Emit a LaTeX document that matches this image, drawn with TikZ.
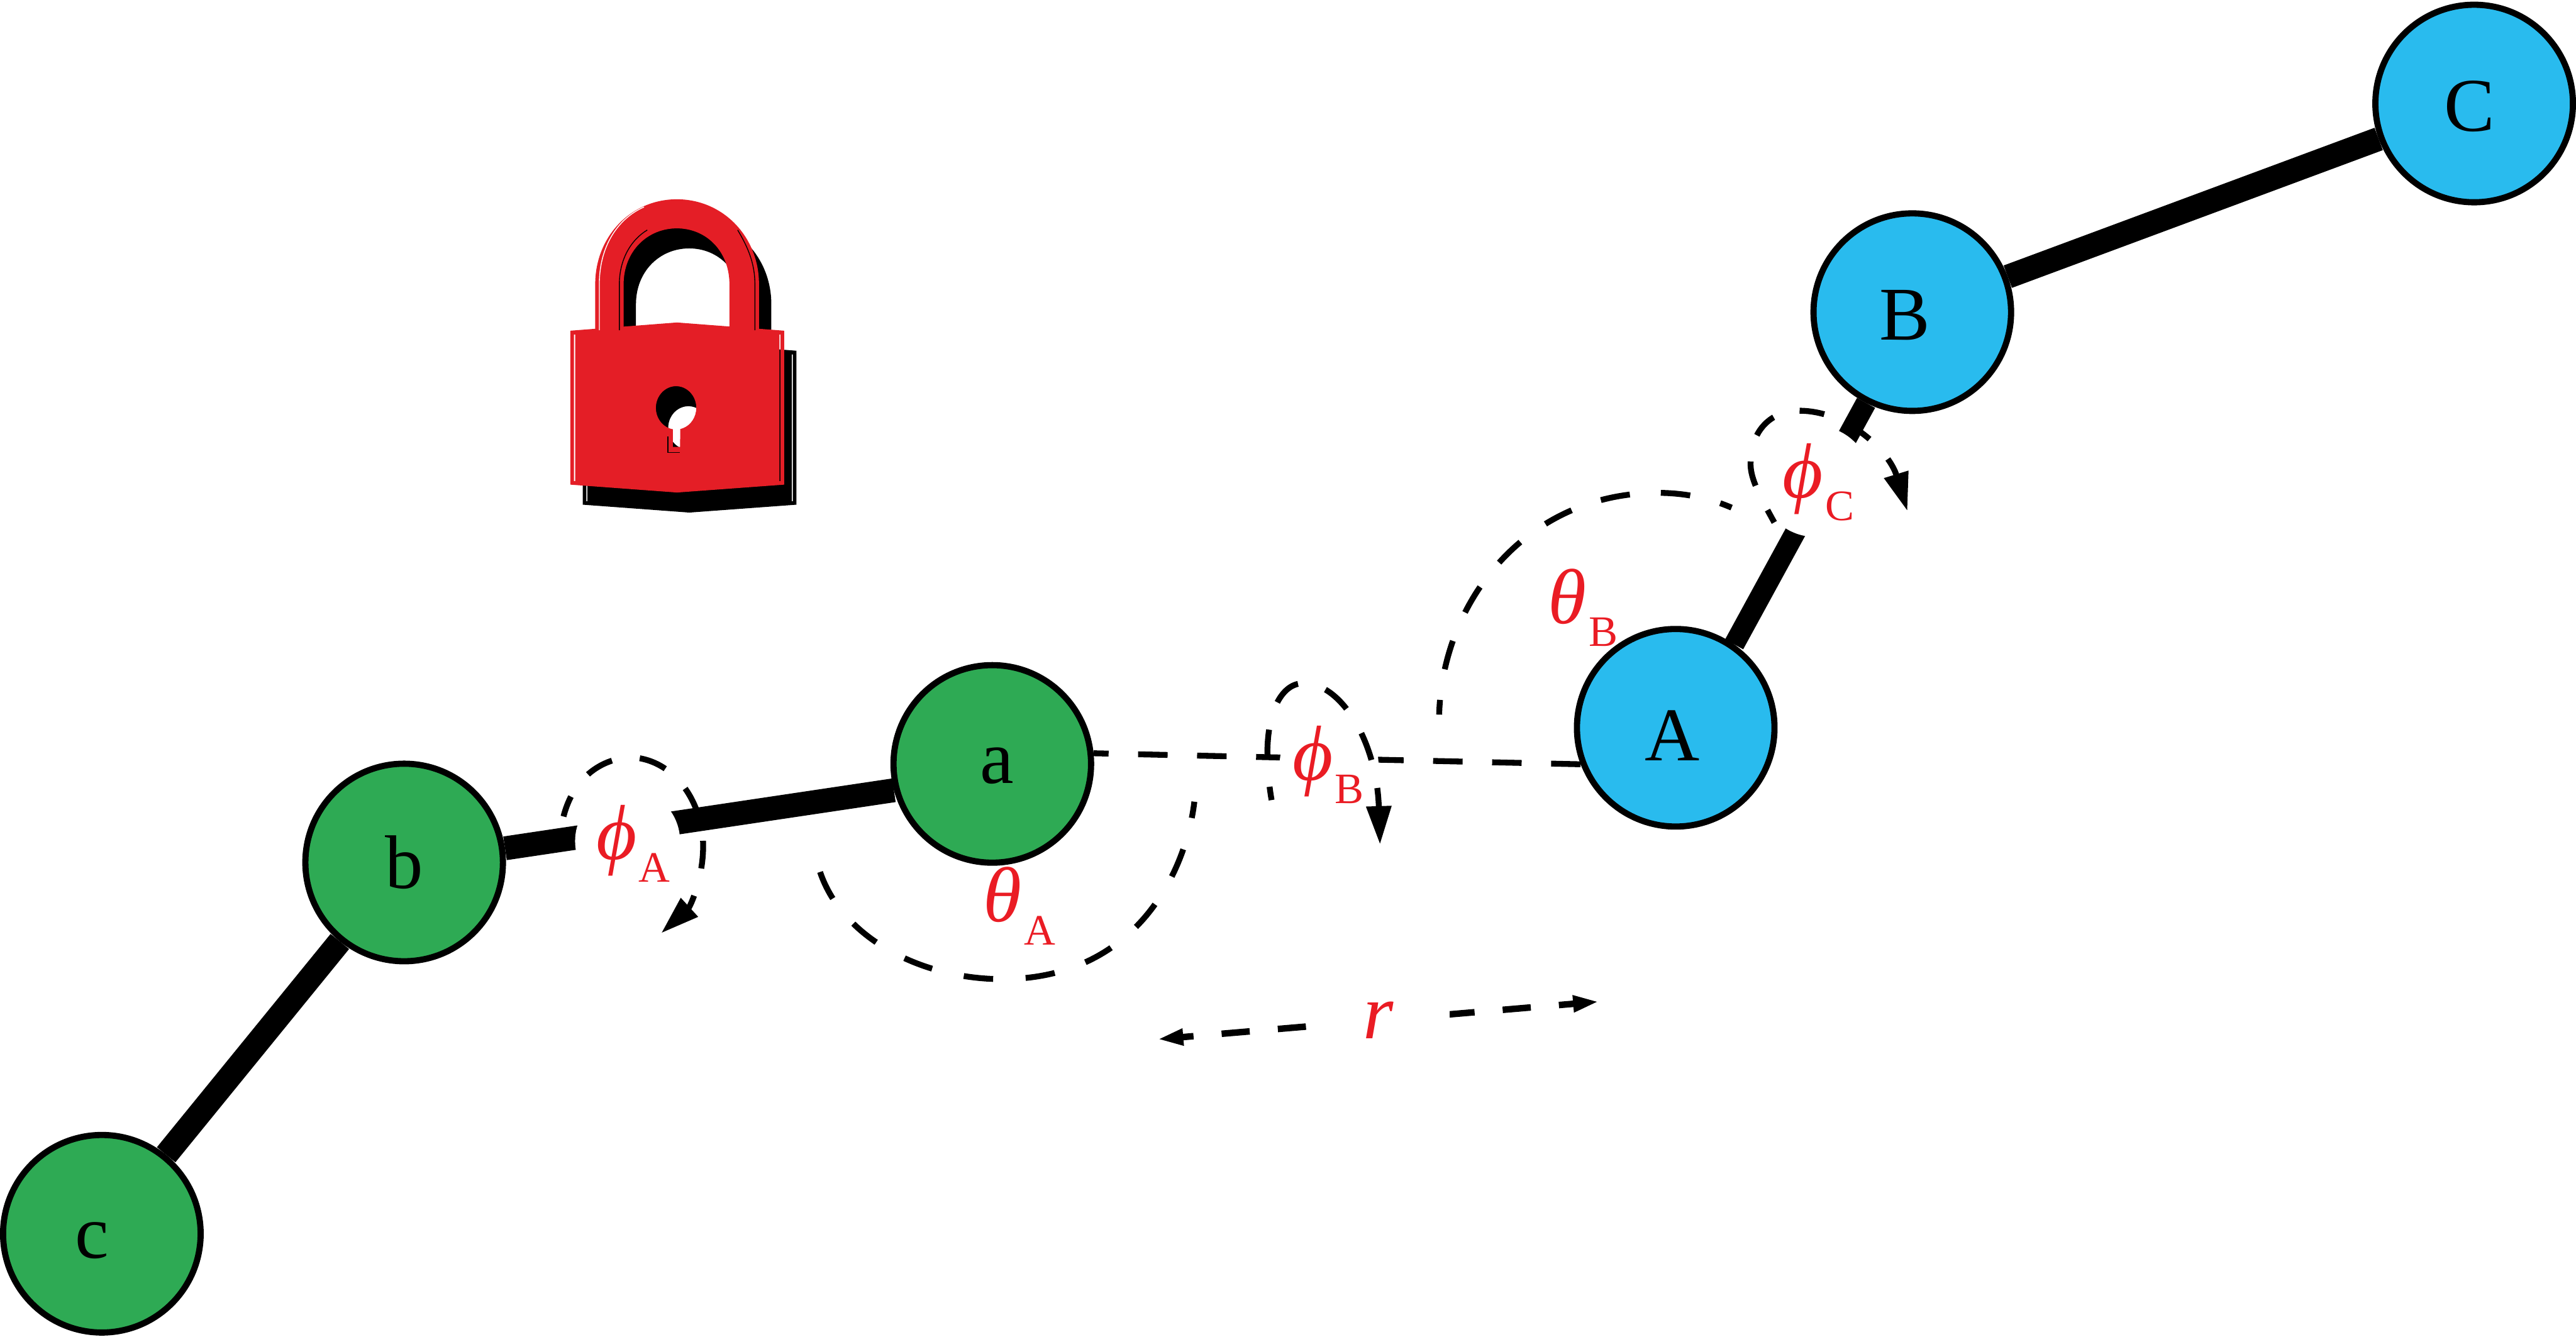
\documentclass[tikz,border=0pt]{standalone}
\usepackage{fontspec}
\setmainfont{Liberation Serif}
\usepackage{tikz}
\usetikzlibrary{arrows.meta}
\definecolor{atomgreen}{RGB}{46,170,84}
\definecolor{atomblue}{RGB}{41,187,238}
\definecolor{lockred}{RGB}{228,30,38}
\definecolor{labred}{RGB}{234,28,36}
\newcommand{\anglab}[2]{{\fontsize{36}{36}\selectfont\itshape #1}\kern1pt\raisebox{-10.5pt}{\fontsize{20}{20}\selectfont #2}}

\begin{document}
\begin{tikzpicture}[x=0.02661cm,y=-0.02661cm,
  atom/.style={circle, draw=black, line width=2.85pt, minimum size=32mm, inner sep=0pt, font=\fontsize{35}{35}\selectfont},
  bond/.style={line width=11pt},
  dsh/.style={dash pattern=on 13.6pt off 14.3pt, line width=2.7pt},
  arr/.style={-{Triangle[length=6.2mm,width=3.9mm]}},
  gap/.style={circle, fill=white, inner sep=0pt},
  lab/.style={text=labred, inner sep=0pt}]
  \useasboundingbox (0,0) rectangle (1568,813.7);
  % the lock: black copy below, red copy on top, key hole cut through both
  \foreach \dx/\dy/\col in {7.5/12.2/black, 0/0/lockred} {
    \begin{scope}[shift={(\dx,\dy)}]
      \fill[\col] (362.3,201) -- (362.3,173) .. controls (362.3,144) and (384,121.3) .. (412,121.3)
        .. controls (440,121.3) and (462,144) .. (462,173) -- (462,201) -- (444,201) -- (444,173)
        .. controls (444,153) and (430,139) .. (412,139) .. controls (394,139) and (379.6,153) .. (379.6,173)
        -- (379.6,201) -- cycle;
      \fill[\col, even odd rule] (347.2,201.3) -- (412.1,196.3) -- (477.3,201.3) -- (477.3,295) -- (412.1,299.8) -- (347.2,295) -- cycle
        (349.4,203.6) rectangle (350.1,292.9) (474.4,203.6) rectangle (475.1,292.9)
        (409.6,261.3) arc[start angle=99, end angle=438.3, x radius=12.3, y radius=13.2] -- (414,272) -- (409.6,272) -- cycle;
    \end{scope}
  }
  \draw[black, line width=0.5pt] (406.6,265.8) -- (406.6,275.4) -- (414,275.4);
  \draw[white, line width=0.4pt] (364.8,201) -- (364.8,173) .. controls (364.8,150) and (376,133) .. (392,126);
  \draw[black, line width=0.4pt] (377,201) -- (377,173) .. controls (377,158) and (384,146) .. (394,140);
  \draw[black, line width=0.4pt] (459.5,201) -- (459.5,173) .. controls (459.5,160) and (455,150) .. (449,140);
  % atoms
  \node[atom, fill=atomgreen, text height=18pt] (a) at (604,465) {\kern4.2pt a};
  \node[atom, fill=atomgreen, text height=24pt] (b) at (246,525) {b};
  \node[atom, fill=atomgreen, text height=22.6pt] (c) at (62,751) {\kern-9pt c};
  \node[atom, fill=atomblue, text height=30pt] (A) at (1020,443) {\kern-3pt A};
  \node[atom, fill=atomblue, text height=25.8pt] (B) at (1164,190) {\kern-6.8pt B};
  \node[atom, fill=atomblue, text height=25.8pt] (C) at (1506,63) {\kern-4.5pt C};
  % bonds, broken where a torsion label sits
  \draw[bond] (a.195) -- (b.8);
  \draw[bond] (b) -- (c);
  \draw[bond, line width=9.5pt] (A.55) -- (B.243);
  \draw[bond] (B) -- (C);
  \draw[dsh, dash pattern=on 13.6pt off 13.6pt] (A.201) -- (a.6);
  \node[gap, minimum size=17mm] (gapA) at (382,512) {};
  \node[gap, minimum size=16mm] (gapB) at (809,465) {};
  \node[gap, minimum size=18mm] (gapC) at (1105,293) {};
  % angle arcs
  \draw[dsh, dash pattern=on 13.6pt off 15pt, dash phase=6pt] (727,488) .. controls (722,530) and (692,596) .. (610,596) .. controls (560,596) and (510,570) .. (498,527);
  \draw[dsh, dash phase=6.8pt] (876,435) .. controls (878,365) and (930,300) .. (1009,300) .. controls (1025,300) and (1040,303) .. (1054,309);
  \draw[dsh, arr, dash pattern=on 12.8pt off 13pt, dash phase=3pt] (343,497) .. controls (350,470) and (370,461) .. (385,461) .. controls (412,463) and (428,490) .. (428,515) .. controls (428,535) and (420,552) .. (402.5,568);
  \draw[dsh, arr, dash pattern=on 13.2pt off 13.2pt, dash phase=7pt] (774,487) .. controls (766,440) and (778,417) .. (792,416) .. controls (815,414) and (838,450) .. (840,514);
  \draw[dsh, arr, dash pattern=on 11.5pt off 12.5pt, dash phase=5pt] (1080,318) .. controls (1070,300) and (1065,290) .. (1065.6,281) .. controls (1066,262) and (1078,250) .. (1095,250) .. controls (1125,250) and (1150,275) .. (1161,311);
  % distance between the two molecules
  \coordinate (rleft) at (704.5,632.6);
  \coordinate (rright) at (973.3,609.7);
  \draw[dash pattern=on 13pt off 13pt, dash phase=7.5pt, line width=3pt, {Triangle[length=4.2mm,width=2.5mm]}-{Triangle[length=4.2mm,width=2.5mm]}] (rleft) -- (rright);
  \node[lab, fill=white, minimum width=23mm, minimum height=8mm, font=\fontsize{36}{36}\selectfont\itshape] (rlab) at (839,621) {r};
  % labels
  \node[lab] (phiA) at (385.5,513.5) {\anglab{ϕ}{A}};
  \node[lab] (phiB) at (808.5,465.5) {\anglab{ϕ}{B}};
  \node[lab] (phiC) at (1107,293.5) {\anglab{ϕ}{C}};
  \node[lab] (thetaA) at (620.5,551.5) {\anglab{θ}{A}};
  \node[lab] (thetaB) at (963.5,370) {\anglab{θ}{B}};
\end{tikzpicture}
\end{document}
